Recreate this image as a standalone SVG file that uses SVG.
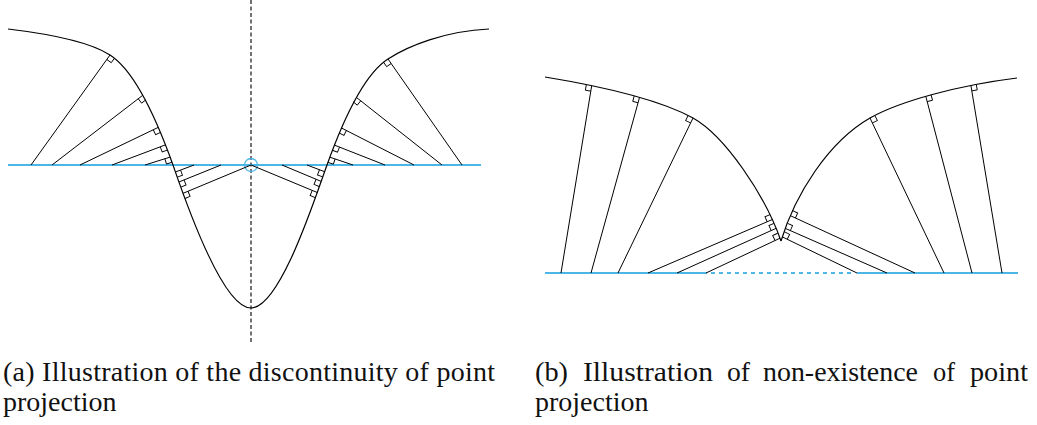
<svg xmlns="http://www.w3.org/2000/svg" xmlns:xlink="http://www.w3.org/1999/xlink" width="1037" height="425" viewBox="0 0 1037 425">
<style>
.crv{fill:none;stroke:#000;stroke-width:1.2}
.ln{stroke:#000;stroke-width:1;fill:none}
.sq{fill:none;stroke:#000;stroke-width:0.9}
.blue{stroke:#4cb6e6;stroke-width:1.8;fill:none}
.bdash{stroke:#4cb6e6;stroke-width:1.8;stroke-dasharray:4 4;fill:none}
.axis{stroke:#000;stroke-width:1.1;stroke-dasharray:4 2.5;fill:none}
.cap{font-family:"Liberation Serif","Times New Roman",serif;font-size:28px;fill:#111}
</style>
<defs>
<path id="sqP" class="sq" d="M5.5,0V5.5H0"/>
<path id="sqN" class="sq" d="M5.5,0V-5.5H0"/>
</defs>
<rect width="1037" height="425" fill="#fff"/>

<g id="figure-a">
  <line class="axis" x1="251" y1="0" x2="251" y2="342"/>
  <line class="blue" x1="8" y1="165" x2="481" y2="165"/>
  <circle cx="251" cy="165" r="6.5" fill="none" stroke="#4cb6e6" stroke-width="1.3"/>
  <path class="crv" d="M8,29 C50,34 90,42 110,55 C132,69 154,112 173,165 C185,200 222,308 251,308 C280,308 315,198 327,165 C346,112 366,73 388,59 C408,46 445,31 489,29"/>
  <g id="normals-a">
    <line class="ln" x1="31" y1="165" x2="110" y2="55"/>
    <line class="ln" x1="52" y1="165" x2="142.6" y2="95.4"/>
    <line class="ln" x1="80" y1="165" x2="158.2" y2="127.4"/>
    <line class="ln" x1="112" y1="165" x2="165.4" y2="144.9"/>
    <line class="ln" x1="145" y1="165" x2="170.1" y2="157.1"/>
    <line class="ln" x1="194" y1="165" x2="175.4" y2="172"/>
    <line class="ln" x1="221" y1="165" x2="178.9" y2="182"/>
    <line class="ln" x1="251" y1="165" x2="182.9" y2="193.4"/>
    <line class="ln" x1="462" y1="165" x2="388" y2="59"/>
    <line class="ln" x1="442" y1="165" x2="356.4" y2="97.4"/>
    <line class="ln" x1="414" y1="165" x2="341.5" y2="128"/>
    <line class="ln" x1="385" y1="165" x2="334.4" y2="145.1"/>
    <line class="ln" x1="353" y1="165" x2="329.9" y2="157.2"/>
    <line class="ln" x1="307" y1="165" x2="324.6" y2="171.7"/>
    <line class="ln" x1="282" y1="165" x2="321.2" y2="181.4"/>
    <line class="ln" x1="251" y1="165" x2="317.3" y2="192.5"/>
  </g>
  <g id="right-angles-a">
    <use xlink:href="#sqN" transform="translate(110,55) rotate(125.7)"/>
    <use xlink:href="#sqN" transform="translate(142.6,95.4) rotate(142.5)"/>
    <use xlink:href="#sqN" transform="translate(158.2,127.4) rotate(154.3)"/>
    <use xlink:href="#sqN" transform="translate(165.4,144.9) rotate(159.4)"/>
    <use xlink:href="#sqN" transform="translate(170.1,157.1) rotate(162.5)"/>
    <use xlink:href="#sqP" transform="translate(175.4,172) rotate(-20.6)"/>
    <use xlink:href="#sqP" transform="translate(178.9,182) rotate(-22)"/>
    <use xlink:href="#sqP" transform="translate(182.9,193.4) rotate(-22.6)"/>
    <use xlink:href="#sqP" transform="translate(388,59) rotate(55.1)"/>
    <use xlink:href="#sqP" transform="translate(356.4,97.4) rotate(38.3)"/>
    <use xlink:href="#sqP" transform="translate(341.5,128) rotate(27)"/>
    <use xlink:href="#sqP" transform="translate(334.4,145.1) rotate(21.5)"/>
    <use xlink:href="#sqP" transform="translate(329.9,157.2) rotate(18.7)"/>
    <use xlink:href="#sqN" transform="translate(324.6,171.7) rotate(200.8)"/>
    <use xlink:href="#sqN" transform="translate(321.2,181.4) rotate(202.7)"/>
    <use xlink:href="#sqN" transform="translate(317.3,192.5) rotate(202.5)"/>
  </g>
  <text id="caption-a" class="cap"><tspan x="3" y="381" textLength="492" lengthAdjust="spacing">(a) Illustration of the discontinuity of point</tspan><tspan x="3" y="411">projection</tspan></text>
</g>

<g id="figure-b">
  <line class="blue" x1="545" y1="273" x2="707" y2="273"/>
  <line class="bdash" x1="711" y1="273" x2="855" y2="273"/>
  <line class="blue" x1="857" y1="273" x2="1018" y2="273"/>
  <path class="crv" d="M545,77 C600,86 660,100 693,118 C725,136 765,195 781,241"/>
  <path class="crv" d="M781,241 C795,195 828,142 870,118 C900,101 960,85 1017,78"/>
  <g id="normals-b">
    <line class="ln" x1="561" y1="273" x2="591.7" y2="85.7"/>
    <line class="ln" x1="591" y1="273" x2="639.5" y2="97.5"/>
    <line class="ln" x1="618" y1="273" x2="693" y2="118"/>
    <line class="ln" x1="648" y1="273" x2="772.2" y2="219.6"/>
    <line class="ln" x1="677" y1="273" x2="776.2" y2="228.3"/>
    <line class="ln" x1="706" y1="273" x2="780" y2="238.2"/>
    <line class="ln" x1="857" y1="273" x2="782.3" y2="236.9"/>
    <line class="ln" x1="887" y1="273" x2="785.3" y2="228.4"/>
    <line class="ln" x1="915" y1="273" x2="790.4" y2="215.7"/>
    <line class="ln" x1="944" y1="273" x2="870" y2="118"/>
    <line class="ln" x1="972" y1="273" x2="925.8" y2="96.3"/>
    <line class="ln" x1="1002" y1="273" x2="970.9" y2="85.4"/>
  </g>
  <g id="right-angles-b">
    <use xlink:href="#sqP" transform="translate(591.7,85.7) rotate(99.3)"/>
    <use xlink:href="#sqP" transform="translate(639.5,97.5) rotate(105.4)"/>
    <use xlink:href="#sqP" transform="translate(693,118) rotate(115.8)"/>
    <use xlink:href="#sqP" transform="translate(772.2,219.6) rotate(156.7)"/>
    <use xlink:href="#sqP" transform="translate(776.2,228.3) rotate(155.7)"/>
    <use xlink:href="#sqP" transform="translate(780,238.2) rotate(154.8)"/>
    <use xlink:href="#sqN" transform="translate(782.3,236.9) rotate(25.8)"/>
    <use xlink:href="#sqN" transform="translate(785.3,228.4) rotate(23.7)"/>
    <use xlink:href="#sqN" transform="translate(790.4,215.7) rotate(24.7)"/>
    <use xlink:href="#sqN" transform="translate(870,118) rotate(64.5)"/>
    <use xlink:href="#sqN" transform="translate(925.8,96.3) rotate(75.3)"/>
    <use xlink:href="#sqN" transform="translate(970.9,85.4) rotate(80.6)"/>
  </g>
  <text id="caption-b" class="cap"><tspan x="535" y="381" textLength="33" lengthAdjust="spacingAndGlyphs">(b)</tspan><tspan x="583" y="381" textLength="130" lengthAdjust="spacingAndGlyphs">Illustration</tspan><tspan x="727" y="381" textLength="23" lengthAdjust="spacingAndGlyphs">of</tspan><tspan x="763" y="381" textLength="155" lengthAdjust="spacingAndGlyphs">non-existence</tspan><tspan x="933" y="381" textLength="22" lengthAdjust="spacingAndGlyphs">of</tspan><tspan x="970" y="381" textLength="58" lengthAdjust="spacingAndGlyphs">point</tspan><tspan x="535" y="411">projection</tspan></text>
</g>
</svg>
